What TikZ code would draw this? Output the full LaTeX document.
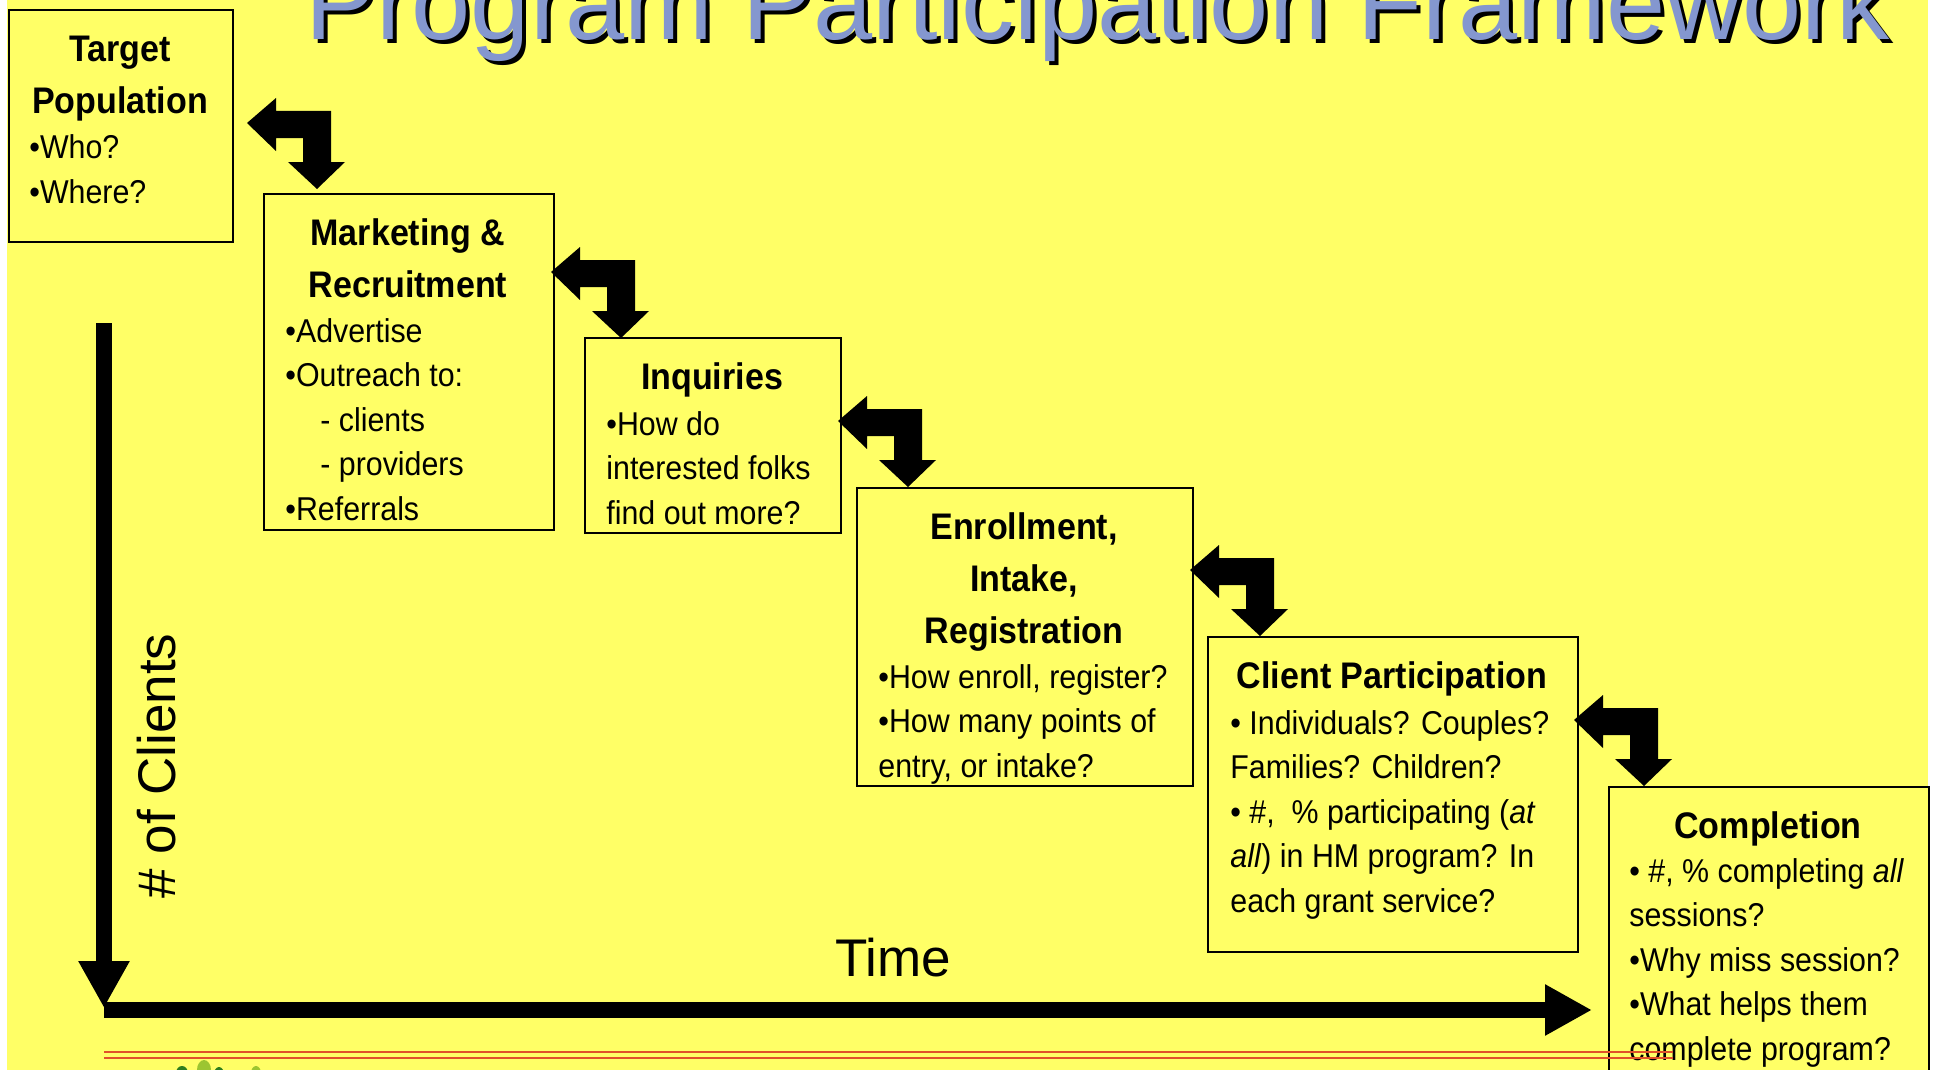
\documentclass[tikz,border=0pt]{standalone}
\usepackage{fontspec}
\setmainfont{Liberation Sans}
\newfontfamily\boxfont[FakeStretch=0.92]{Liberation Sans}
\usetikzlibrary{arrows.meta}
\definecolor{bg}{HTML}{FFFF66}
\definecolor{lav}{HTML}{8497CF}
\definecolor{redline}{HTML}{E0522A}
\definecolor{dgreen}{HTML}{2E7D1E}
\definecolor{lgreen}{HTML}{9CC531}
\tikzset{
  panel/.style={draw=black,line width=1.1pt,fill=bg,inner sep=0pt,anchor=north west},
  head/.style={font=\boxfont\bfseries\fontsize{18.5}{26}\selectfont,align=center,anchor=base,inner sep=0pt},
  body/.style={font=\boxfont\fontsize{16.5}{22.25}\selectfont,align=left,anchor=base west,inner sep=0pt},
  axis/.style={line width=8pt,-{Triangle[length=23.5pt,width=24pt]}},
  axlabel/.style={font=\fontsize{26.5}{30}\selectfont,inner sep=0pt,anchor=base west},
  titletext/.style={font=\fontsize{53.2}{60}\selectfont,inner sep=0pt,anchor=base west},
  bentarrow/.pic={\fill[black] (-70,-66) -- (-41,-91) -- (-41,-78) -- (14,-78) -- (14,-27) -- (28,-27) -- (0,0) -- (-29,-27) -- (-14,-27) -- (-14,-51) -- (-41,-51) -- (-41,-38) -- cycle;}
}
\begin{document}
\begin{tikzpicture}[x=0.5pt,y=-0.5pt]
\useasboundingbox (0,0) rectangle (1937,1070);
\clip (0,0) rectangle (1937,1070);
\fill[white] (0,0) rectangle (1937,1070);
\fill[bg] (7,0) rectangle (1928,1070);

% title
\node[titletext,text=black] (titleshadow) at (309,44) {Program Participation Framework};
\node[titletext,text=lav] (title) at (305,40) {Program Participation Framework};

% boxes
\node[panel,minimum width=112pt,minimum height=116pt] (b1) at (8,9) {};
\node[panel,minimum width=145pt,minimum height=168pt] (b2) at (263,193) {};
\node[panel,minimum width=128pt,minimum height=97.5pt] (b3) at (584,337) {};
\node[panel,minimum width=168pt,minimum height=149pt] (b4) at (856,487) {};
\node[panel,minimum width=185pt,minimum height=157.5pt] (b5) at (1207,636) {};
\node[panel,minimum width=160pt,minimum height=152pt] (b6) at (1608,786) {};

% headings (anchor = baseline of last line)
\node[head] (h1) at (120,113) {Target\\Population};
\node[head] (h2) at (408,297) {Marketing \&\\Recruitment};
\node[head] (h3) at (712,389) {Inquiries};
\node[head] (h4) at (1024,643) {Enrollment,\\Intake,\\Registration};
\node[head] (h5) at (1392,688) {Client Participation};
\node[head] (h6) at (1768,838) {Completion};

% bodies (anchor = baseline of last line)
\node[body] (t1) at (29,203) {•Who?\\•Where?};
\node[body] (t2) at (285,520) {•Advertise\\•Outreach to:\\\hspace*{17.5pt}- clients\\\hspace*{17.5pt}- providers\\•Referrals};
\node[body] (t3) at (606,524) {•How do\\interested folks\\find out more?};
\node[body] (t4) at (878,777) {•How enroll, register?\\•How many points of\\entry, or intake?};
\node[body] (t5) at (1230,912) {• Individuals? Couples?\\Families? Children?\\• \#,\ \ \% participating (\textit{at}\\\textit{all}) in HM program? In\\each grant service?};
\node[body] (t6) at (1629,1060) {• \#, \% completing \textit{all}\\sessions?\\•Why miss session?\\•What helps them\\complete program?};

% bent arrows between steps
\pic (a1) at (317,189) {bentarrow};
\pic (a2) at (621,338) {bentarrow};
\pic (a3) at (908,487) {bentarrow};
\pic (a4) at (1260,636) {bentarrow};
\pic (a5) at (1644,786) {bentarrow};

% axes
\coordinate (ytop) at (104,323);
\coordinate (yend) at (104,1008);
\coordinate (xstart) at (104,1010);
\coordinate (xend) at (1592,1010);
\draw[axis] (ytop) -- (yend);
\draw[axis] (xstart) -- (xend);
\node[axlabel,rotate=90] (ylab) at (175,899) {\# of Clients};
\node[axlabel] (xlab) at (835,976) {Time};

% footer lines
\draw[redline,line width=1.15pt] (104,1052) -- (1673,1052);
\draw[redline,line width=1.15pt] (104,1058) -- (1673,1058);

% logo fragments
\fill[dgreen] (182,1073) ellipse [x radius=6, y radius=7];
\fill[lgreen] (204,1070) ellipse [x radius=7, y radius=10];
\fill[dgreen] (219,1074) ellipse [x radius=5, y radius=7];
\fill[lgreen] (256,1073) ellipse [x radius=5, y radius=7];
\end{tikzpicture}
\end{document}
